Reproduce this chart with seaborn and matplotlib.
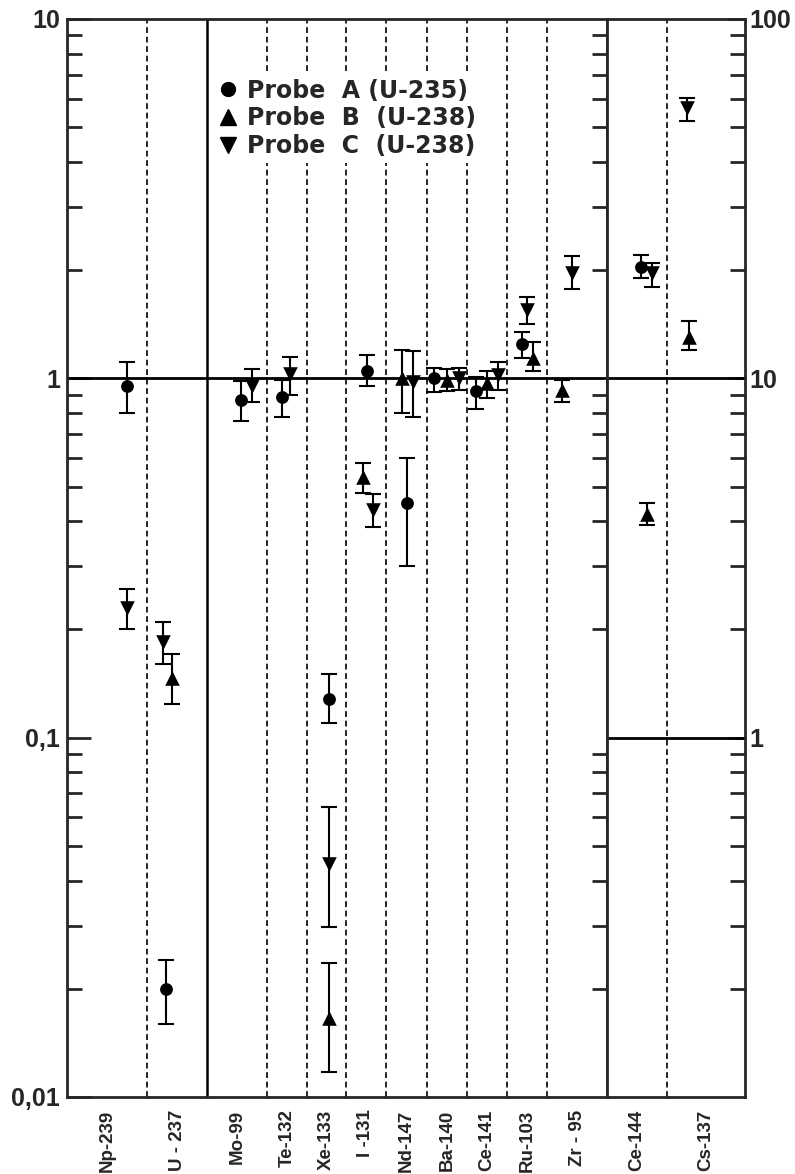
import numpy as np
import pandas as pd
import matplotlib
matplotlib.use("Agg")
import matplotlib.pyplot as plt
from matplotlib.lines import Line2D
from matplotlib.ticker import FixedLocator, LogLocator, NullFormatter
import seaborn as sns

# --- data ---
nuclides = ["Np-239", "U - 237", "Mo-99", "Te-132", "Xe-133", "I -131", "Nd-147",
            "Ba-140", "Ce-141", "Ru-103", "Zr - 95", "Ce-144", "Cs-137"]
n_left = 11  # Ce-144 and Cs-137 are read on the right axis (1 ... 100)

nan = np.nan
probe_a      = [0.95, 0.020, 0.87, 0.885, 0.128, 1.05, 0.45, 1.00, 0.92, 1.25, nan, 20.4, nan]
probe_a_low  = [0.80, 0.016, 0.76, 0.78, 0.110, 0.95, 0.30, 0.915, 0.82, 1.14, nan, 19.0, nan]
probe_a_high = [1.11, 0.024, 0.98, 0.99, 0.150, 1.16, 0.60, 1.07, 1.01, 1.35, nan, 22.0, nan]

probe_b      = [nan, 0.147, nan, nan, 0.0166, 0.53, 1.00, 0.99, 0.97, 1.14, 0.93, 4.2, 13.0]
probe_b_low  = [nan, 0.124, nan, nan, 0.0117, 0.48, 0.80, 0.92, 0.88, 1.045, 0.86, 3.9, 12.0]
probe_b_high = [nan, 0.171, nan, nan, 0.0236, 0.58, 1.20, 1.06, 1.05, 1.26, 0.99, 4.5, 14.4]

probe_c      = [0.23, 0.185, 0.95, 1.03, 0.0446, 0.43, 0.975, 1.00, 1.02, 1.55, 1.97, 19.7, 56.5]
probe_c_low  = [0.20, 0.16, 0.86, 0.90, 0.0298, 0.385, 0.78, 0.93, 0.93, 1.42, 1.77, 18.0, 52.0]
probe_c_high = [0.26, 0.21, 1.06, 1.15, 0.0643, 0.478, 1.19, 1.07, 1.11, 1.68, 2.19, 21.0, 60.2]

probe_labels = ["Probe  A (U-235)", "Probe  B  (U-238)", "Probe  C  (U-238)"]

# --- layout (pixel-like units along x) ---
edges = [67, 147, 207, 267, 307, 346, 386, 427, 467, 507, 547, 607, 667, 745]
solid_edges = [207]
off_a = [60, 19, 34, 15, 22, 21, 21, 7, 9, 15, nan, 34, nan]
off_b = [nan, 25, nan, nan, 22, 17, 16, 20, 20, 26, 15, 40, 22]
off_c = [60, 16, 45, 23, 22, 27, 27, 32, 31, 20, 25, 45, 20]

rows = []
for key, vals, lo, hi, off in [("A", probe_a, probe_a_low, probe_a_high, off_a),
                                ("B", probe_b, probe_b_low, probe_b_high, off_b),
                                ("C", probe_c, probe_c_low, probe_c_high, off_c)]:
    for i, nuc in enumerate(nuclides):
        if np.isnan(vals[i]):
            continue
        rows.append(dict(nuclide=nuc, probe=key, x=edges[i] + off[i], value=vals[i],
                         low=lo[i], high=hi[i], panel="L" if i < n_left else "R"))
df = pd.DataFrame(rows)

markers = {"A": "o", "B": "^", "C": "v"}
msizes = {"A": 85, "B": 110, "C": 110}

sns.set_style("ticks")
plt.rcParams["font.family"] = ["Liberation Sans", "DejaVu Sans"]
plt.rcParams["font.weight"] = "bold"

W, H = 795, 1174
top, bottom = 19, 1097
fig = plt.figure(figsize=(W / 100, H / 100), dpi=100)
axL = fig.add_axes([edges[0] / W, 1 - bottom / H, (edges[n_left] - edges[0]) / W, (bottom - top) / H])
axR = fig.add_axes([edges[n_left] / W, 1 - bottom / H, (edges[-1] - edges[n_left]) / W, (bottom - top) / H])

centers = [(edges[i] + edges[i + 1]) / 2 for i in range(len(nuclides))]

for ax, panel, xl, yl in [(axL, "L", (edges[0], edges[n_left]), (0.01, 10)),
                          (axR, "R", (edges[n_left], edges[-1]), (0.1, 100))]:
    ax.set_yscale("log")
    ax.set_xlim(*xl)
    ax.set_ylim(*yl)
    sub = df[df.panel == panel]
    for key in ["A", "B", "C"]:
        s = sub[sub.probe == key]
        ax.errorbar(s.x, s.value, yerr=[s.value - s.low, s.high - s.value], fmt="none",
                    ecolor="black", elinewidth=1.5, capsize=6, capthick=1.5, zorder=3)
        sns.scatterplot(x=s.x, y=s.value, marker=markers[key], s=msizes[key], color="black",
                        edgecolor="black", linewidth=0, ax=ax, zorder=4, legend=False)
    ax.set_xlabel("")
    ax.set_ylabel("")
    for sp in ax.spines.values():
        sp.set_linewidth(2)
        sp.set_visible(True)
    ax.tick_params(axis="x", length=0, pad=9, labelrotation=90, labelsize=13.5)

# separators
for e in edges[1:n_left]:
    axL.axvline(e, color="black", lw=1.8 if e in solid_edges else 1.2,
                ls="-" if e in solid_edges else (0, (3.5, 2.2)), zorder=1)
for e in edges[n_left + 1:-1]:
    axR.axvline(e, color="black", lw=1.2, ls=(0, (3.5, 2.2)), zorder=1)

axL.axhline(1, color="black", lw=2, zorder=2)
axR.axhline(10, color="black", lw=2, zorder=2)
axR.axhline(1, color="black", lw=2, zorder=2)

# x labels
axL.set_xticks(centers[:n_left])
axL.set_xticklabels(nuclides[:n_left], fontweight="bold")
axR.set_xticks(centers[n_left:])
axR.set_xticklabels(nuclides[n_left:], fontweight="bold")

# left scale
axL.yaxis.set_major_locator(FixedLocator([0.01, 0.1, 1, 10]))
axL.set_yticklabels(["0,01", "0,1", "1", "10"], fontweight="bold")
axL.yaxis.set_minor_locator(LogLocator(base=10, subs=np.arange(2, 10)))
axL.yaxis.set_minor_formatter(NullFormatter())
axL.tick_params(axis="y", which="both", direction="in", left=True, right=True, labelright=False)
axL.tick_params(axis="y", which="major", length=17, width=2, labelsize=18, pad=5)
axL.tick_params(axis="y", which="minor", length=11, width=2)
for t in axL.yaxis.get_major_ticks():
    t.tick2line.set_visible(False)

# right scale
axR.yaxis.set_major_locator(FixedLocator([1, 10, 100]))
axR.set_yticklabels(["1", "10", "100"], fontweight="bold")
axR.yaxis.set_minor_locator(LogLocator(base=10, subs=np.arange(2, 10)))
axR.yaxis.set_minor_formatter(NullFormatter())
axR.tick_params(axis="y", which="both", direction="in", left=False, right=True,
                labelleft=False, labelright=True)
axR.tick_params(axis="y", which="major", length=12, width=2, labelsize=18, pad=3)
axR.tick_params(axis="y", which="minor", length=11, width=2)

handles = [Line2D([], [], ls="", marker=markers[k], color="black", markersize=10 if k == "A" else 11)
           for k in ["A", "B", "C"]]
leg = axL.legend(handles, probe_labels, loc="upper left", bbox_to_anchor=(0.252, 0.960),
                 prop=dict(family="DejaVu Sans", weight="bold", size=17),
                 frameon=True, facecolor="white", edgecolor="none", framealpha=1,
                 handlelength=0.7, handletextpad=0.45, labelspacing=0.16, borderpad=0.2)
leg.set_zorder(5)

fig.savefig("out.png", dpi=100)
